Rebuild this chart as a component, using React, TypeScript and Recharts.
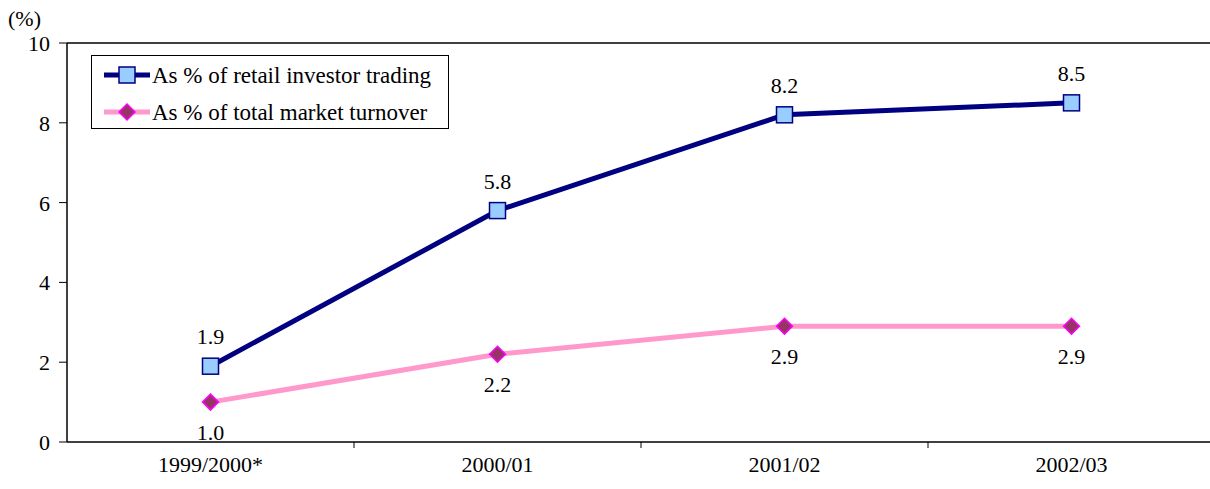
import React from 'react';
import { LineChart, Line, XAxis, YAxis, ReferenceLine, LabelList } from 'recharts';

const periods = ['1999/2000*', '2000/01', '2001/02', '2002/03'];
const retailShare = [1.9, 5.8, 8.2, 8.5];
const marketShare = [1.0, 2.2, 2.9, 2.9];
const yTicks = [0, 2, 4, 6, 8, 10];

const data = periods.map((p, i) => ({ period: p, retail: retailShare[i], market: marketShare[i] }));

const FONT = '"Liberation Serif", "Times New Roman", serif';
const NAVY = '#000080';
const PINK = '#FF99CC';

const CHART_W = 1215;
const CHART_H = 489;
const MARGIN = { top: 43, right: 0, bottom: 0, left: 7 };
const X_AXIS_H = 47;
const Y_AXIS_W = 60;
// half of one category band, used to put tick marks between categories
const HALF_BAND = (CHART_W - MARGIN.left - Y_AXIS_W - MARGIN.right) / periods.length / 2;

const textStyle = { fontFamily: FONT, fontSize: 22, fill: '#000' };

const SquareDot = ({ cx, cy }: any) => (
    <rect x={cx - 8} y={cy - 8} width={16} height={16} fill="#99CCFF" stroke={NAVY} strokeWidth={1.5} />
);

const DiamondDot = ({ cx, cy }: any) => (
    <polygon
        points={`${cx},${cy - 8} ${cx + 8},${cy} ${cx},${cy + 8} ${cx - 8},${cy}`}
        fill="#993366"
        stroke="#FF00FF"
        strokeWidth={1.5}
    />
);

const PeriodTick = ({ x, y, payload, index }: any) => (
    <g>
        {index > 0 && <line x1={x - HALF_BAND} y1={y} x2={x - HALF_BAND} y2={y + 6} stroke="#000" strokeWidth={1} />}
        <text x={x} y={y + 30} textAnchor="middle" style={textStyle}>
            {payload.value}
        </text>
    </g>
);

const ValueTick = ({ x, y, payload }: any) => (
    <text x={x} y={y} dy={8} textAnchor="end" style={textStyle}>
        {payload.value}
    </text>
);

const LegendBox = () => (
    <div style={{ position: 'absolute', left: 91, top: 55, border: '1px solid #000', background: '#fff', width: 358, height: 74, boxSizing: 'border-box', fontFamily: FONT, fontSize: 23, lineHeight: 1 }}>
        <div style={{ display: 'flex', alignItems: 'center', height: 36, paddingTop: 1 }}>
            <svg width={48} height={20} style={{ marginLeft: 10, flex: 'none' }}>
                <line x1={2} y1={10} x2={48} y2={10} stroke={NAVY} strokeWidth={5} />
                <rect x={17} y={2} width={16} height={16} fill="#99CCFF" stroke={NAVY} strokeWidth={1.5} />
            </svg>
            <span style={{ marginLeft: 2, whiteSpace: 'nowrap' }}>As % of retail investor trading</span>
        </div>
        <div style={{ display: 'flex', alignItems: 'center', height: 38 }}>
            <svg width={48} height={20} style={{ marginLeft: 10, flex: 'none' }}>
                <line x1={2} y1={10} x2={48} y2={10} stroke={PINK} strokeWidth={5} />
                <polygon points="25,2 33,10 25,18 17,10" fill="#993366" stroke="#FF00FF" strokeWidth={1.5} />
            </svg>
            <span style={{ marginLeft: 2, whiteSpace: 'nowrap' }}>As % of total market turnover</span>
        </div>
    </div>
);

const App: React.FC = () => {
    return (
        <div style={{ position: 'absolute', left: 0, top: 0, width: 1210, height: CHART_H, overflow: 'hidden', background: '#fff' }}>
            <div style={{ position: 'absolute', left: 8, top: 8, fontFamily: FONT, fontSize: 22, lineHeight: 1 }}>(%)</div>
            <LineChart width={CHART_W} height={CHART_H} data={data} margin={MARGIN}>
                <XAxis
                    dataKey="period"
                    scale="band"
                    height={X_AXIS_H}
                    axisLine={{ stroke: '#000', strokeWidth: 1.5 }}
                    tickLine={false}
                    tickSize={0}
                    tickMargin={0}
                    tick={(props: any) => <PeriodTick {...props} />}
                    interval={0}
                />
                <YAxis
                    width={Y_AXIS_W}
                    domain={[0, 10]}
                    ticks={yTicks}
                    axisLine={{ stroke: '#000', strokeWidth: 1.5 }}
                    tickLine={{ stroke: '#000' }}
                    tickSize={8}
                    tickMargin={9}
                    tick={(props: any) => <ValueTick {...props} />}
                />
                <ReferenceLine y={10} stroke="#000" strokeWidth={1.5} />
                <Line
                    dataKey="retail"
                    stroke={NAVY}
                    strokeWidth={5}
                    dot={<SquareDot />}
                    activeDot={false}
                    isAnimationActive={false}
                >
                    <LabelList
                        dataKey="retail"
                        position="top"
                        offset={22}
                        formatter={(v: any) => Number(v).toFixed(1)}
                        style={textStyle}
                    />
                </Line>
                <Line
                    dataKey="market"
                    stroke={PINK}
                    strokeWidth={5}
                    dot={<DiamondDot />}
                    activeDot={false}
                    isAnimationActive={false}
                >
                    <LabelList
                        dataKey="market"
                        position="bottom"
                        offset={22}
                        formatter={(v: any) => Number(v).toFixed(1)}
                        style={textStyle}
                    />
                </Line>
            </LineChart>
            <LegendBox />
        </div>
    );
};

export default App;
